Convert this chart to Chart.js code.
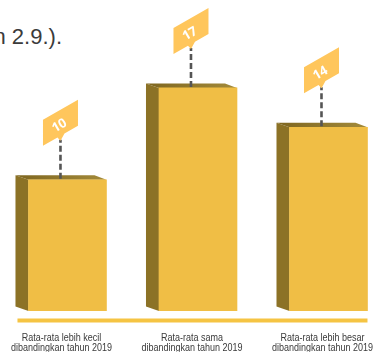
<!DOCTYPE html>
<html>
<head>
<meta charset="utf-8">
<script src="https://cdn.jsdelivr.net/npm/chart.js@4/dist/chart.umd.min.js"></script>
<style>
    html, body { margin: 0; padding: 0; background: #fff; overflow: hidden; }
    #wrap { position: relative; width: 379px; height: 352px; overflow: hidden; }
    #chart { position: absolute; left: 0; top: 0; }
    .texto {
        position: absolute; right: 317px; top: 22px; white-space: nowrap;
        font-family: 'Liberation Sans', Arial, sans-serif;
        font-size: 22px; color: #3b3b3b; line-height: 30px;
    }
</style>
</head>
<body>
<div id="wrap">
    <div class="texto">(lihat Lampiran 2.9.).</div>
    <canvas id="chart" width="379" height="352"></canvas>
</div>
<script>
// Datos del gráfico
const categorias = [
    ['Rata-rata lebih kecil', 'dibandingkan tahun 2019'],
    ['Rata-rata sama', 'dibandingkan tahun 2019'],
    ['Rata-rata lebih besar', 'dibandingkan tahun 2019'],
];
const valores = [10, 17, 14];
const posiciones = [0, 1, 2];

// Caras laterales/superiores, línea base, etiquetas tipo bandera y rótulos
const plugin3d = {
    id: 'barras3d',
    beforeDatasetsDraw: (chart) => {
        const c = chart.ctx;
        const dx = -13, dy = -4.5;
        chart.getDatasetMeta(0).data.forEach(bar => {
            const izq = bar.x - bar.width / 2;
            const der = bar.x + bar.width / 2;
            c.save();
            // cara lateral
            c.fillStyle = '#8C7226';
            c.beginPath();
            c.moveTo(izq, bar.y);
            c.lineTo(izq + dx, bar.y + dy);
            c.lineTo(izq + dx, bar.base + dy);
            c.lineTo(izq, bar.base);
            c.closePath();
            c.fill();
            // cara superior
            const g = c.createLinearGradient(izq + dx, 0, der, 0);
            g.addColorStop(0, '#7E6620');
            g.addColorStop(1, '#A38A3A');
            c.fillStyle = g;
            c.beginPath();
            c.moveTo(izq, bar.y);
            c.lineTo(izq + dx, bar.y + dy);
            c.lineTo(der + dx + 1, bar.y + dy);
            c.lineTo(der, bar.y);
            c.closePath();
            c.fill();
            c.restore();
        });
    },
    afterDraw: (chart) => {
        const c = chart.ctx;
        const bars = chart.getDatasetMeta(0).data;
        const first = bars[0], last = bars[bars.length - 1];
        const fondo = chart.chartArea.bottom;

        // línea base amarilla
        c.save();
        c.fillStyle = '#F5C443';
        const x0 = first.x - first.width / 2 - 11;
        c.fillRect(x0, fondo + 7.5, (last.x + last.width / 2) - x0, 4);
        c.restore();

        bars.forEach((bar, i) => {
            const cx = bar.x - 7;
            const yb = bar.y - 34;
            const w = 35, h = 26, sube = 20;
            const izq = cx - w / 2, der = cx + w / 2;
            const borde = (x) => yb - (x - izq) * sube / w;

            c.save();
            // línea punteada
            c.strokeStyle = '#555';
            c.lineWidth = 2.6;
            c.setLineDash([6, 3]);
            c.beginPath();
            c.moveTo(cx, bar.y - 1);
            c.lineTo(cx, borde(cx) + 4);
            c.stroke();
            c.setLineDash([]);

            // bandera
            c.fillStyle = '#FFC65C';
            c.beginPath();
            c.moveTo(izq, yb);
            c.lineTo(izq, yb - h);
            c.lineTo(der, yb - h - sube);
            c.lineTo(der, yb - sube);
            c.lineTo(cx + 4, borde(cx + 4));
            c.lineTo(cx, borde(cx) + 5);
            c.lineTo(cx - 3, borde(cx - 3));
            c.closePath();
            c.fill();

            // número
            c.translate(cx - 1, yb - 20);
            c.rotate(-30 * Math.PI / 180);
            c.fillStyle = '#fff';
            c.font = "bold 13px 'Open Sans', sans-serif";
            c.textAlign = 'center';
            c.textBaseline = 'middle';
            c.fillText(String(valores[i]), 0, 0);
            c.restore();

            // rótulo de categoría (condensado)
            c.save();
            c.translate(bar.x - 6, fondo);
            c.scale(0.85, 1);
            c.fillStyle = '#3a3a3a';
            c.font = "10.6px 'Liberation Sans', Arial, sans-serif";
            c.textAlign = 'center';
            c.textBaseline = 'alphabetic';
            categorias[i].forEach((linea, k) => c.fillText(linea, 0, 30.3 + k * 10));
            c.restore();
        });
    },
};

new Chart(document.getElementById('chart'), {
    type: 'bar',
    data: {
        datasets: [{
            data: posiciones.map((p, i) => ({ x: p, y: valores[i] })),
            backgroundColor: '#F0BE45',
            borderWidth: 0,
            barThickness: 78,
        }],
    },
    options: {
        responsive: false,
        animation: false,
        layout: { padding: { top: 0, left: 0, right: 0, bottom: 41 } },
        plugins: {
            legend: { display: false },
            tooltip: { enabled: false },
        },
        scales: {
            x: {
                type: 'linear',
                display: false,
                offset: false,
                min: -0.517,
                max: 2.387,
            },
            y: {
                display: false,
                min: 0,
                max: 23.7,
            },
        },
    },
    plugins: [plugin3d],
});
</script>
</body>
</html>
